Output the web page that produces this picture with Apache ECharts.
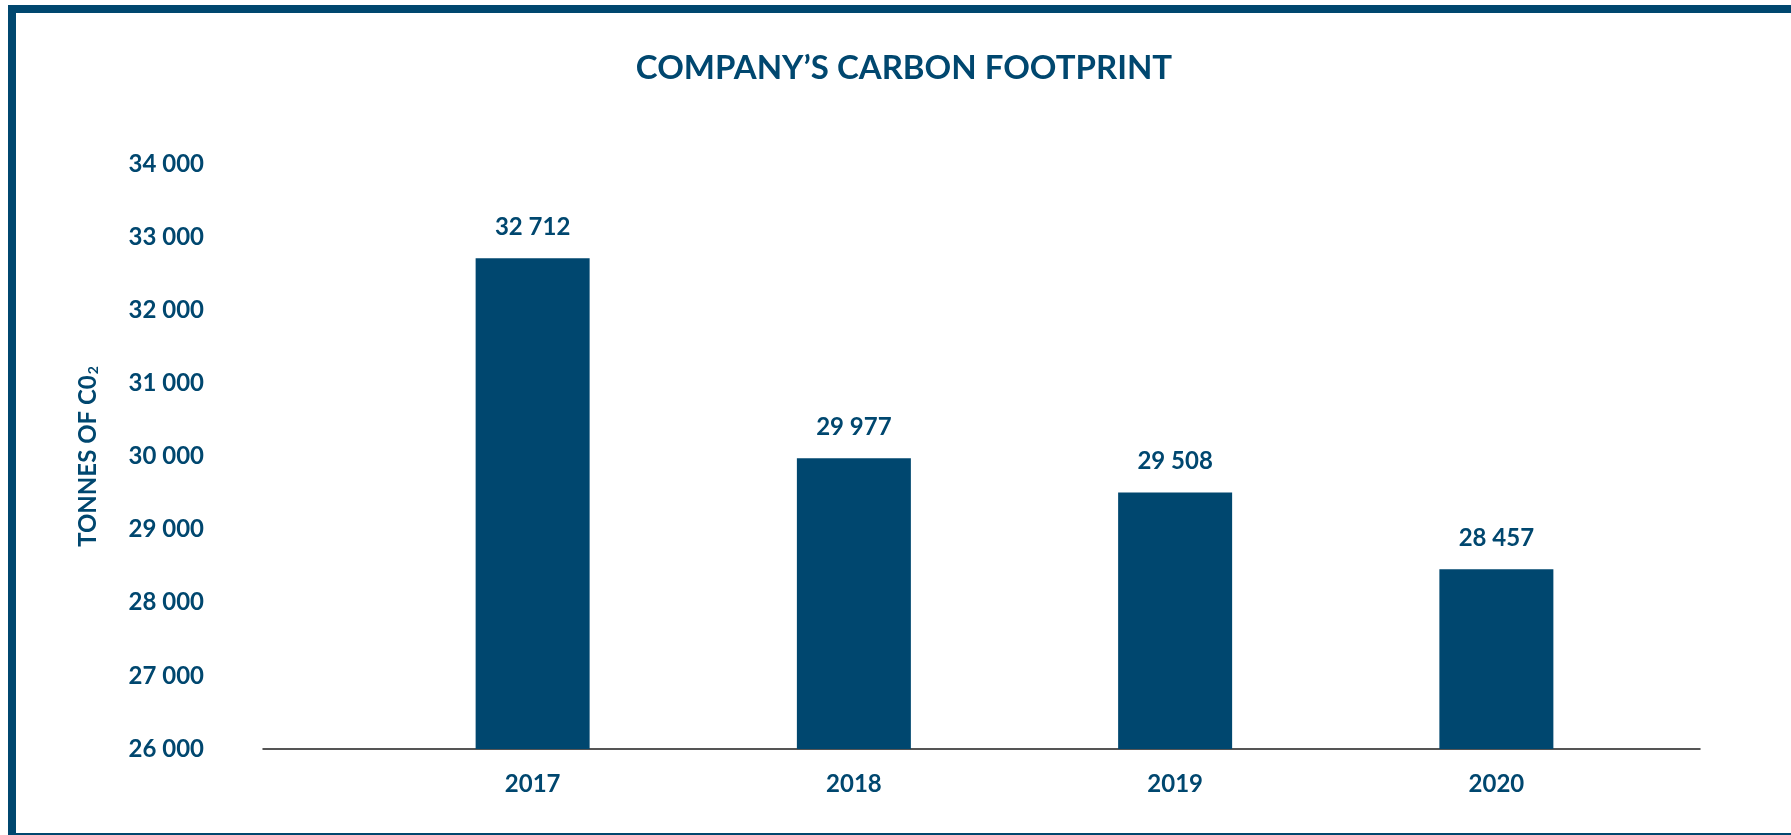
<!DOCTYPE html>
<html>
<head>
<meta charset="utf-8">
<title>Company's carbon footprint</title>
<script src="https://cdn.jsdelivr.net/npm/echarts@6/dist/echarts.min.js"></script>
<style>
  html, body { margin: 0; padding: 0; background: #fff; }
  #main { position: absolute; left: 0; top: 0; width: 1791px; height: 835px; }
  /* frame round the chart: thick left/top, thin bottom, open right */
  .frame {
    position: absolute; left: 8px; top: 5px; width: 1783px; height: 830px;
    box-sizing: border-box; pointer-events: none;
    border-left: 8px solid #00476f; border-top: 8px solid #00476f;
    border-bottom: 2px solid #00476f;
  }
</style>
</head>
<body>
<div id="main"></div>
<div class="frame"></div>
<script>
const years = ["2017", "2018", "2019", "2020"];
const tonnes = [32712, 29977, 29508, 28457];
const yMin = 26000;
const yMax = 34000;
const yStep = 1000;

const blue = "#00476f";
const font = "Lato";

// 32712 -> "32 712"
function fmt(v) {
  return String(v).replace(/\B(?=(\d{3})+(?!\d))/g, " ");
}

const myChart = echarts.init(document.getElementById("main"));
myChart.setOption({
  animation: false,
  textStyle: { fontFamily: font, fontWeight: "bold", color: blue },
  title: {
    text: "COMPANY\u2019S CARBON FOOTPRINT",
    left: 904,
    top: 51,
    textAlign: "center",
    padding: 0,
    textStyle: { fontFamily: font, fontSize: 33, fontWeight: "bold", color: blue, lineHeight: 35 },
  },
  grid: [
    // bars
    { left: 372, right: 134, top: 164, bottom: 86, containLabel: false },
    // longer baseline under the bars
    { left: 263, right: 91, top: 164, bottom: 86, containLabel: false },
  ],
  xAxis: [
    {
      type: "category",
      gridIndex: 0,
      data: years,
      axisLine: { show: false },
      axisTick: { show: false },
      axisLabel: {
        margin: 23,
        fontFamily: font,
        fontSize: 24,
        fontWeight: "bold",
        color: blue,
        lineHeight: 24,
      },
    },
    {
      type: "value",
      gridIndex: 1,
      min: 0,
      max: 1,
      axisLine: { show: true, lineStyle: { color: "#1e1e1e", width: 1.5 } },
      axisTick: { show: false },
      axisLabel: { show: false },
      splitLine: { show: false },
    },
  ],
  yAxis: [
    {
      type: "value",
      gridIndex: 0,
      min: yMin,
      max: yMax,
      interval: yStep,
      name: "TONNES OF C0{sub|2}",
      nameLocation: "middle",
      nameRotate: 90,
      nameGap: 272,
      nameTextStyle: {
        fontFamily: font,
        fontSize: 24,
        fontWeight: "bold",
        color: blue,
        rich: {
          sub: { fontFamily: font, fontSize: 14, fontWeight: "bold", color: blue, padding: [0, 0, 0, 1], verticalAlign: "bottom", lineHeight: 16 },
        },
      },
      axisLine: { show: false },
      axisTick: { show: false },
      splitLine: { show: false },
      axisLabel: {
        margin: 168,
        fontFamily: font,
        fontSize: 24,
        fontWeight: "bold",
        color: blue,
        formatter: fmt,
      },
    },
    {
      type: "value",
      gridIndex: 1,
      show: false,
      min: 0,
      max: 1,
    },
  ],
  series: [
    {
      type: "bar",
      xAxisIndex: 0,
      yAxisIndex: 0,
      data: tonnes,
      barWidth: 114,
      itemStyle: { color: blue },
      label: {
        show: true,
        position: "top",
        distance: 19,
        fontFamily: font,
        fontSize: 24,
        fontWeight: "bold",
        color: blue,
        lineHeight: 24,
        formatter: (p) => fmt(p.value),
      },
    },
  ],
});

window.addEventListener("resize", function () {
  myChart.resize();
});
</script>
</body>
</html>
